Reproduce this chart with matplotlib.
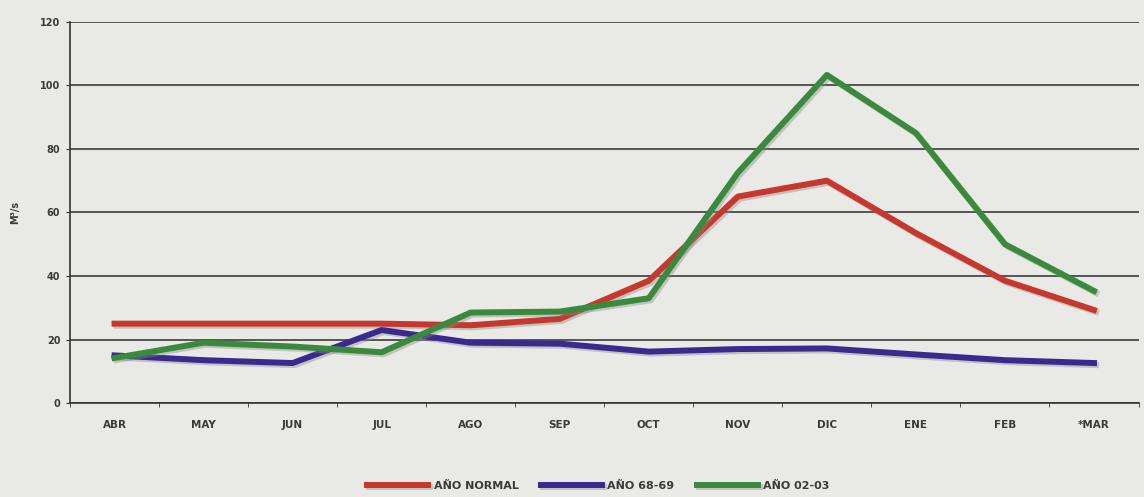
import numpy as np
import matplotlib.pyplot as plt
import matplotlib.patheffects as pe

# months (hydrological year)
meses = ['ABR', 'MAY', 'JUN', 'JUL', 'AGO', 'SEP', 'OCT', 'NOV', 'DIC', 'ENE', 'FEB', '*MAR']
normal = [25, 25, 25, 25, 24.5, 26.5, 38.5, 65, 70, 53.5, 38.5, 29.3]
anio_68_69 = [15, 13.5, 12.6, 23, 19, 18.7, 16.2, 17, 17.2, 15.3, 13.5, 12.6]
anio_02_03 = [14.2, 19, 17.8, 16, 28.5, 28.8, 33, 72.5, 103.3, 85, 50, 35.3]
yticks = [0, 20, 40, 60, 80, 100, 120]

bg = '#e9e9e5'
fig = plt.figure(figsize=(11.44, 4.97), dpi=100, facecolor=bg)
ax = fig.add_axes([0.0612, 0.189, 0.934, 0.767])
ax.set_facecolor(bg)

x = np.arange(len(meses))
shadow = [pe.SimpleLineShadow(offset=(1.5, -1.5), shadow_color='#888888', alpha=0.4), pe.Normal()]
ax.plot(x, normal, color='#c8372d', lw=4.3, label='AÑO NORMAL', path_effects=shadow, zorder=3)
ax.plot(x, anio_68_69, color='#3b2a8e', lw=4.3, label='AÑO 68-69', path_effects=shadow, zorder=3)
ax.plot(x, anio_02_03, color='#3a8a3e', lw=4.3, label='AÑO 02-03', path_effects=shadow, zorder=4)

ax.set_xlim(-0.5, 11.5)
ax.set_ylim(0, 120)
ax.set_yticks(yticks)
ax.set_yticklabels([str(v) for v in yticks], fontsize=7, fontweight='bold', color='#3a3a3a')
ax.set_xticks(x)
ax.set_xticklabels(meses, fontsize=7.5, fontweight='bold', color='#3a3a3a')
ax.tick_params(axis='x', which='major', length=0, pad=12)
ax.set_xticks(np.arange(-0.5, 12, 1), minor=True)
ax.tick_params(axis='x', which='minor', length=3, color='#333333', direction='out')
ax.tick_params(axis='y', length=3, color='#333333', pad=4)
ax.yaxis.grid(True, color='#3c3c3c', lw=1.2)
ax.set_axisbelow(True)
for s in ['top', 'right']:
    ax.spines[s].set_visible(False)
ax.spines['left'].set_color('#333333')
ax.spines['bottom'].set_color('#333333')
ax.spines['left'].set_linewidth(1.2)
ax.spines['bottom'].set_linewidth(1.2)
ax.set_ylabel('M³/s', fontsize=7, fontweight='bold', color='#3a3a3a', labelpad=14)

leg = fig.legend(loc='lower center', bbox_to_anchor=(0.523, -0.008), ncol=3, frameon=False,
                 handlelength=5.5, prop={'weight': 'bold', 'size': 8}, columnspacing=2.0, handletextpad=0.5)
for t in leg.get_texts():
    t.set_color('#3a3a3a')

plt.savefig('out.png', dpi=100, facecolor=bg)
